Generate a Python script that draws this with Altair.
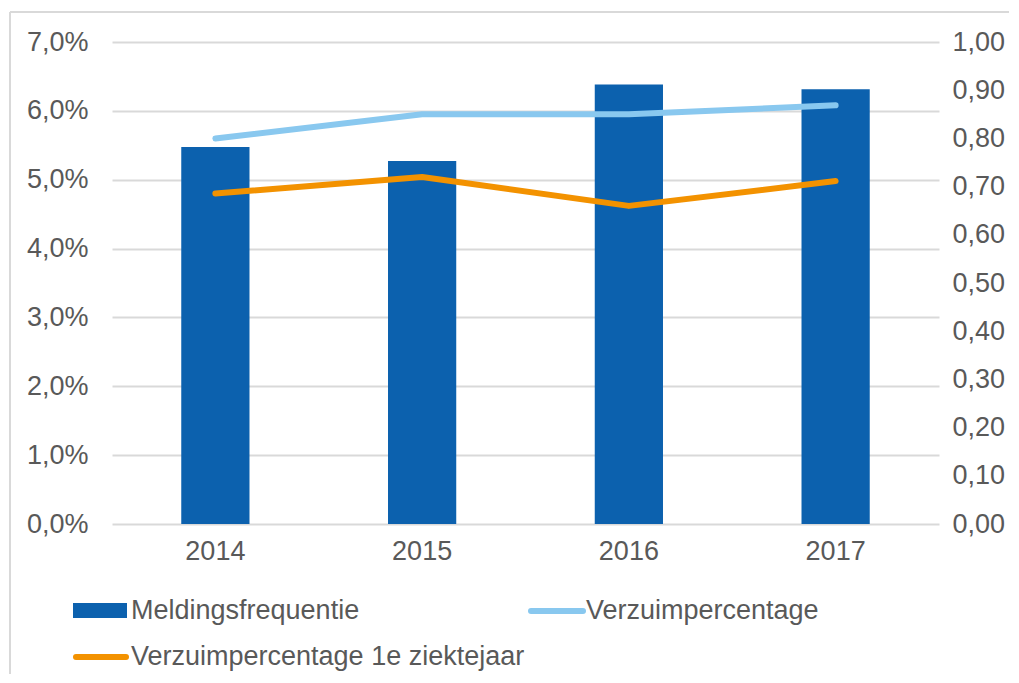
import altair as alt
import pandas as pd

years = ["2014", "2015", "2016", "2017"]
meldingsfrequentie = [0.782, 0.753, 0.912, 0.902]
verzuim = [0.0560, 0.0595, 0.0595, 0.0608]
verzuim_1e = [0.0480, 0.0504, 0.0462, 0.0498]
series_names = ["Meldingsfrequentie", "Verzuimpercentage", "Verzuimpercentage 1e ziektejaar"]
left_ticks = [0, 0.01, 0.02, 0.03, 0.04, 0.05, 0.06, 0.07]
right_ticks = [0, 0.1, 0.2, 0.3, 0.4, 0.5, 0.6, 0.7, 0.8, 0.9, 1.0]

BLUE = "#0c61ae"
LIGHT = "#89c8ef"
ORANGE = "#f39200"
TXT = "#595959"
GRID = "#d9d9d9"
FONT = "Liberation Sans"
FS = 27

bars_df = pd.DataFrame({"year": years, "value": meldingsfrequentie})
lines_df = pd.DataFrame({
    "year": years * 2,
    "series": [series_names[1]] * 4 + [series_names[2]] * 4,
    "value": verzuim + verzuim_1e,
})

W, H = 827, 482

xenc = alt.X("year:N", sort=years,
             scale=alt.Scale(paddingInner=0.67, paddingOuter=0.335),
             axis=alt.Axis(title=None, labelAngle=0, ticks=False, domain=False,
                           labelFont=FONT, labelFontSize=FS, labelColor=TXT,
                           labelPadding=14))

bars = alt.Chart(bars_df).mark_bar(color=BLUE).encode(
    x=xenc,
    y=alt.Y("value:Q", scale=alt.Scale(domain=[0, 1.0], nice=False),
            axis=alt.Axis(orient="right", title=None, values=right_ticks,
                          grid=False, ticks=False, domain=False,
                          labelFont=FONT, labelFontSize=FS, labelColor=TXT,
                          labelPadding=13,
                          labelExpr="replace(format(datum.value, '.2f'), '.', ',')")),
)

lines = alt.Chart(lines_df).mark_line(strokeWidth=6, strokeJoin="round", strokeCap="round").encode(
    x=alt.X("year:N", sort=years),
    y=alt.Y("value:Q", scale=alt.Scale(domain=[0, 0.07], nice=False),
            axis=alt.Axis(orient="left", title=None, values=left_ticks,
                          grid=True, gridColor=GRID, gridWidth=2,
                          ticks=False, domain=False,
                          labelFont=FONT, labelFontSize=FS, labelColor=TXT,
                          labelPadding=24,
                          labelExpr="replace(format(datum.value * 100, '.1f'), '.', ',') + '%'")),
    color=alt.Color("series:N", scale=alt.Scale(domain=series_names[1:], range=[LIGHT, ORANGE]),
                    legend=None),
    detail="series:N",
)

# Legend (drawn by hand, positions relative to plot area)
leg_df = pd.DataFrame({"label": series_names})
base_leg = alt.Chart(leg_df)

leg_rect = base_leg.transform_filter(alt.datum.label == series_names[0]).mark_rect(color=BLUE).encode(
    x=alt.value(-39), x2=alt.value(15), y=alt.value(561), y2=alt.value(576))
leg_line1 = base_leg.transform_filter(alt.datum.label == series_names[1]).mark_rule(
    color=LIGHT, strokeWidth=6, strokeCap="round").encode(
    x=alt.value(419), x2=alt.value(471), y=alt.value(569))
leg_line2 = base_leg.transform_filter(alt.datum.label == series_names[2]).mark_rule(
    color=ORANGE, strokeWidth=6, strokeCap="round").encode(
    x=alt.value(-36), x2=alt.value(14), y=alt.value(615))

def leg_text(name, x, y):
    return base_leg.transform_filter(alt.datum.label == name).mark_text(
        align="left", baseline="middle", font=FONT, fontSize=FS, color=TXT).encode(
        x=alt.value(x), y=alt.value(y), text="label:N")

t1 = leg_text(series_names[0], 19, 569)
t2 = leg_text(series_names[1], 474, 569)
t3 = leg_text(series_names[2], 19, 615)

# Outer chart border (top and left edges)
border_top = base_leg.transform_filter(alt.datum.label == series_names[0]).mark_rule(
    color=GRID, strokeWidth=2).encode(x=alt.value(-102), x2=alt.value(W + 70), y=alt.value(-30))
border_left = base_leg.transform_filter(alt.datum.label == series_names[0]).mark_rule(
    color=GRID, strokeWidth=2).encode(x=alt.value(-102), y=alt.value(-30), y2=alt.value(H + 150))

chart = alt.layer(
    bars, lines, leg_rect, leg_line1, leg_line2, t1, t2, t3, border_top, border_left
).resolve_scale(y="independent").properties(
    width=W, height=H,
    autosize=alt.AutoSizeParams(type="none"),
    padding={"left": 104, "top": 34, "right": 70, "bottom": 150},
).configure_view(stroke=None)

chart.save("out.html", embed_options={"renderer": "svg", "actions": False})
